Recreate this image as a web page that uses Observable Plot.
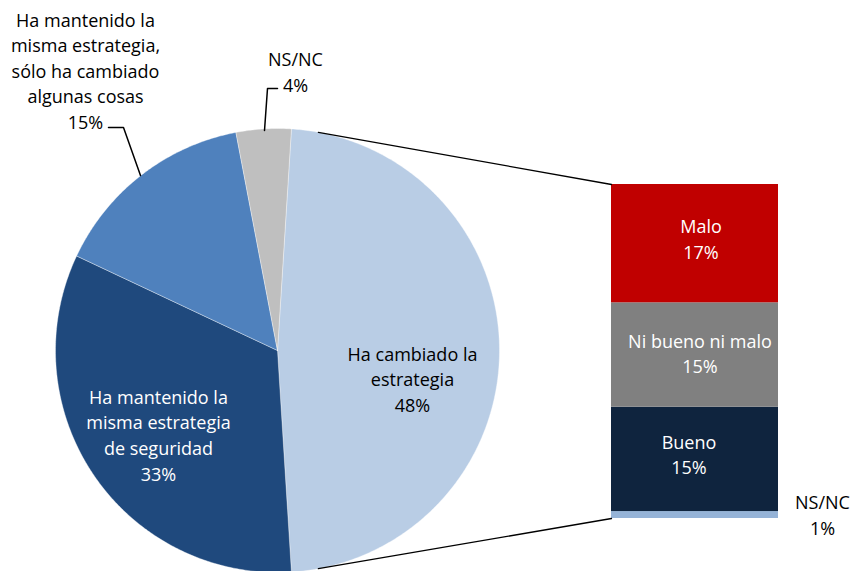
<!DOCTYPE html>
<html><head><meta charset="utf-8">
<script src="https://cdn.jsdelivr.net/npm/d3@7"></script>
<script src="https://cdn.jsdelivr.net/npm/@observablehq/plot@0.6"></script>
<style>body{margin:0;background:#fff}</style>
</head><body><div id="chart"></div>
<script>
// ---- data ----
const pieCategories = ["Ha cambiado la estrategia", "Ha mantenido la misma estrategia de seguridad", "Ha mantenido la misma estrategia, sólo ha cambiado algunas cosas", "NS/NC"];
const pieLabels = ["Ha cambiado la\nestrategia\n48%", "Ha mantenido la\nmisma estrategia\nde seguridad\n33%", "Ha mantenido la\nmisma estrategia,\nsólo ha cambiado\nalgunas cosas\n15%", "NS/NC\n4%"];
const pieValues = [48, 33, 15, 4];
const pieColors = ["#B9CDE5", "#1F497D", "#4F81BD", "#BFBFBF"];
const pieTextColors = ["#000", "#fff", "#000", "#000"];

const barCategories = ["Malo", "Ni bueno ni malo", "Bueno", "NS/NC"];
const barLabels = ["Malo\n17%", "Ni bueno ni malo\n15%", "Bueno\n15%", "NS/NC\n1%"];
const barValues = [17, 15, 15, 1];
const barColors = ["#C00000", "#808080", "#0F243E", "#95B3D7"];
const barTextColors = ["#fff", "#fff", "#fff", "#000"];

// ---- layout (pixels) ----
const W = 854, H = 571;
const barTopPx = 184, barBasePx = 518, barLeftPx = 611, barRightPx = 778;
const U = (barBasePx - barTopPx) / d3.sum(barValues); // px per percentage point
const px = v => v / U;                 // horizontal px -> units
const py = v => (barBasePx - v) / U;   // vertical px -> units (y up)
const pieCx = px(277), pieCy = py(350), pieR = 222 / U;

// label anchors (px) for pie slices
const pieLabelPos = [[412, 377.5], [158, 433.5], [85, 69], [295, 70.5]];
const leaders = [
  null, null,
  [[108, 127], [123, 127], [140, 175]],
  [[277, 88], [267, 88], [264, 130]]
];
// bar label offsets (px)
const barLabelOffset = {"Malo": [6, -6], "Ni bueno ni malo": [5, -2.5], "Bueno": [-6, -6]};
const barNsPos = [822, 513.5];

// pie geometry from values
const total = d3.sum(pieValues);
const startDeg = 90 - pieValues[0] / total * 360 / 2;
const pt = (deg, r) => ({x: pieCx + r * Math.sin(deg * Math.PI / 180), y: pieCy + r * Math.cos(deg * Math.PI / 180)});
let acc = startDeg;
const slices = pieValues.map((v, i) => {
  const a0 = acc, a1 = acc + v / total * 360; acc = a1;
  const n = Math.max(2, Math.ceil(a1 - a0) * 2);
  const pts = [{x: pieCx, y: pieCy}];
  for (let k = 0; k <= n; k++) pts.push(pt(a0 + (a1 - a0) * k / n, pieR));
  pts.push({x: pieCx, y: pieCy});
  return {pts, color: pieColors[i], a0, a1};
});

// bar stacked bottom-up
const barRows = barCategories.map((c, i) => ({cat: c, value: barValues[i], label: barLabels[i], color: barColors[i], tc: barTextColors[i]})).reverse();
let cum = 0;
barRows.forEach(r => { r.y1 = cum; cum += r.value; r.y2 = cum; r.mid = (r.y1 + r.y2) / 2; });

const bx1 = px(barLeftPx), bx2 = px(barRightPx);
barRows.forEach(r => {
  if (r.cat === "NS/NC") { r.lx = px(barNsPos[0]); r.ly = py(barNsPos[1]); }
  else { const o = barLabelOffset[r.cat]; r.lx = (bx1 + bx2) / 2 + o[0] / U; r.ly = r.mid - o[1] / U; }
});

const connectorAngle = 10.6;
const connectors = [
  [pt(connectorAngle, pieR), {x: bx1, y: cum}],
  [pt(180 - connectorAngle, pieR), {x: bx1, y: 0}]
];

const font = "'Open Sans', 'Liberation Sans', sans-serif";
const fs = 18;

const marks = [];
slices.forEach(s => marks.push(Plot.line(s.pts, {x: "x", y: "y", fill: s.color, stroke: "white", strokeWidth: 0.6, strokeOpacity: 0.6})));
marks.push(Plot.rect(barRows, {x1: () => bx1, x2: () => bx2, y1: "y1", y2: "y2", fill: "color"}));
connectors.forEach(c => marks.push(Plot.line(c, {x: "x", y: "y", stroke: "#000", strokeWidth: 1.3})));
leaders.forEach(l => { if (l) marks.push(Plot.line(l.map(([a, b]) => ({x: px(a), y: py(b)})), {x: "x", y: "y", stroke: "#000", strokeWidth: 1.5})); });
marks.push(Plot.text(pieLabels.map((t, i) => ({t, x: px(pieLabelPos[i][0]), y: py(pieLabelPos[i][1]), c: pieTextColors[i]})),
  {x: "x", y: "y", text: "t", fill: "c", fontSize: fs, lineHeight: 1.42, textAnchor: "middle"}));
marks.push(Plot.text(barRows, {x: "lx", y: "ly", text: "label", fill: "tc", fontSize: fs, lineHeight: 1.42, textAnchor: "middle"}));

const chart = Plot.plot({
  width: W, height: H,
  margin: 0,
  style: {fontFamily: font, background: "#fff"},
  x: {domain: [0, px(W)], range: [0, W], axis: null},
  y: {domain: [py(H), py(0)], range: [H, 0], axis: null},
  color: {type: "identity"},
  marks
});
document.getElementById("chart").appendChild(chart);
</script>
</body></html>
